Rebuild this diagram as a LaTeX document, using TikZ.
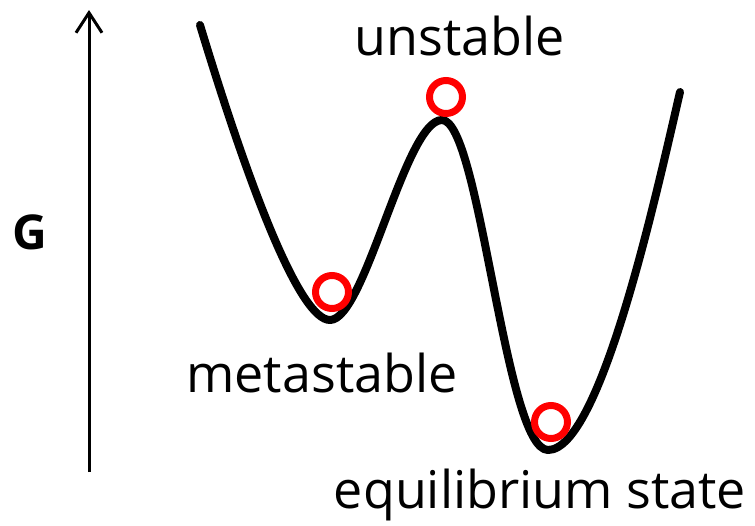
\documentclass[tikz,border=0pt]{standalone}
\usepackage{fontspec}
\setmainfont{Open Sans}
\usetikzlibrary{arrows.meta}
\begin{document}
\begin{tikzpicture}[x=1pt,y=-1pt,
  lbl/.style={font=\fontsize{52}{56}\selectfont, inner sep=0pt},
  ball/.style={draw=red, line width=7pt, circle, minimum size=33pt, inner sep=0pt, fill=white},
  curve/.style={line width=8pt, line cap=round, line join=round}]
\useasboundingbox (0,0) rectangle (755,525);
\coordinate (a0) at (89,472);
\coordinate (a1) at (89,10);
\draw[line width=3pt, -{Straight Barb[length=20pt,width=26pt,line width=3pt]}] (a0) -- (a1);
\node[lbl, font=\fontsize{48}{52}\selectfont\bfseries] (g) at (30,232) {G};
\coordinate (p0) at (200,25);
\coordinate (p1) at (330,320);
\coordinate (p2) at (442,120);
\coordinate (p3) at (548,450);
\coordinate (p4) at (680,92);
\draw[curve] (p0) .. controls (250,190) and (300,320) .. (p1)
  .. controls (365,320) and (405,120) .. (p2)
  .. controls (480,120) and (505,450) .. (p3)
  .. controls (600,450) and (655,200) .. (p4);
\node[ball] (b1) at (332,292) {};
\node[ball] (b2) at (446,97) {};
\node[ball] (b3) at (551,422) {};
\node[lbl] (t1) at (460,36) {unstable};
\node[lbl] (t2) at (322,373) {metastable};
\node[lbl] (t3) at (540,495) {equilibrium state};
\end{tikzpicture}
\end{document}
